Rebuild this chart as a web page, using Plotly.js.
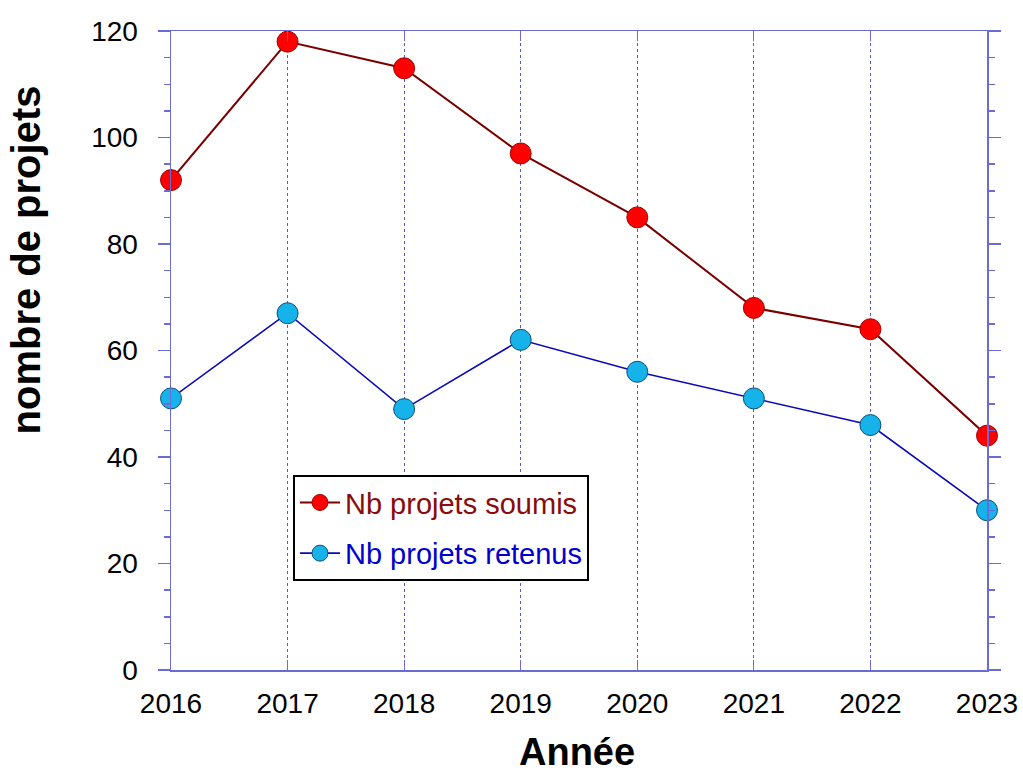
<!DOCTYPE html>
<html>
<head>
<meta charset="utf-8">
<script src="https://cdn.plot.ly/plotly-3.0.1.min.js"></script>
<style>html,body{margin:0;padding:0;background:#fff;}#chart{width:1023px;height:778px;}</style>
</head>
<body>
<div id="chart"></div>
<script>
const years = [2016, 2017, 2018, 2019, 2020, 2021, 2022, 2023];
const soumis = [92, 118, 113, 97, 85, 68, 64, 44];
const retenus = [51, 67, 49, 62, 56, 51, 46, 30];
const seriesNames = ['Nb projets soumis', 'Nb projets retenus'];
const xTitle = 'Année';
const yTitle = 'nombre de projets';

const FONT = 'Liberation Sans, Arial, Helvetica, sans-serif';
const AXIS = '#6b6bd6';

const traces = [
  {
    x: years, y: soumis, type: 'scatter', mode: 'lines+markers',
    name: '<span style="color:#8b0a0a">' + seriesNames[0] + '</span>',
    legendgroup: 'a',
    line: {color: '#7a0000', width: 2},
    marker: {size: 21, color: '#ff0000', line: {color: '#a00000', width: 1}},
    cliponaxis: false
  },
  {
    x: years, y: retenus, type: 'scatter', mode: 'lines+markers',
    name: '<span style="color:#0000cc">' + seriesNames[1] + '</span>',
    legendgroup: 'b',
    line: {color: '#0a0ab8', width: 1.6},
    marker: {size: 21, color: '#16b2ea', line: {color: '#0b4f7a', width: 1}},
    cliponaxis: false
  }
];

const layout = {
  width: 1023, height: 778,
  margin: {l: 171, r: 36, t: 31, b: 108},
  paper_bgcolor: '#ffffff', plot_bgcolor: '#ffffff',
  font: {family: FONT, size: 28, color: '#000'},
  showlegend: true,
  legend: {
    x: 0.1495, y: 0.305, xanchor: 'left', yanchor: 'top',
    bgcolor: '#ffffff', bordercolor: '#000000', borderwidth: 2,
    font: {family: FONT, size: 29},
    tracegroupgap: 10,
    itemsizing: 'trace',
    itemwidth: 40
  },
  xaxis: {
    range: [2016, 2023], dtick: 1, tick0: 2016,
    showline: true, linecolor: AXIS, linewidth: 1.5, mirror: 'ticks',
    ticks: 'inside', ticklen: 10, tickcolor: AXIS, tickwidth: 1,
    showgrid: true, gridcolor: '#5a5ad0', griddash: 'dot', gridwidth: 1,
    zeroline: false,
    tickfont: {family: FONT, size: 28, color: '#000'},
    ticklabelstandoff: 8
  },
  yaxis: {
    range: [0, 120], dtick: 20, tick0: 0,
    showline: true, linecolor: AXIS, linewidth: 1.5, mirror: 'ticks',
    ticks: 'outside', ticklen: 12, tickcolor: AXIS, tickwidth: 1.5,
    minor: {dtick: 5, ticks: 'outside', ticklen: 6, tickcolor: AXIS, tickwidth: 1.5, showgrid: false},
    showgrid: false, zeroline: false,
    tickfont: {family: FONT, size: 28, color: '#000'},
    ticklabelstandoff: 14
  },
  annotations: [
    {text: '<b>' + xTitle + '</b>', xref: 'paper', yref: 'paper', x: 0.4975, y: -0.128,
     xanchor: 'center', yanchor: 'middle', showarrow: false,
     font: {family: FONT, size: 38, color: '#000'}},
    {text: '<b>' + yTitle + '</b>', xref: 'paper', yref: 'paper', x: -0.207, y: 0.641,
     xanchor: 'left', yanchor: 'middle', showarrow: false, textangle: -90,
     font: {family: FONT, size: 40, color: '#000'}}
  ]
};

Plotly.newPlot('chart', traces, layout, {displayModeBar: false, staticPlot: true});
</script>
</body>
</html>
